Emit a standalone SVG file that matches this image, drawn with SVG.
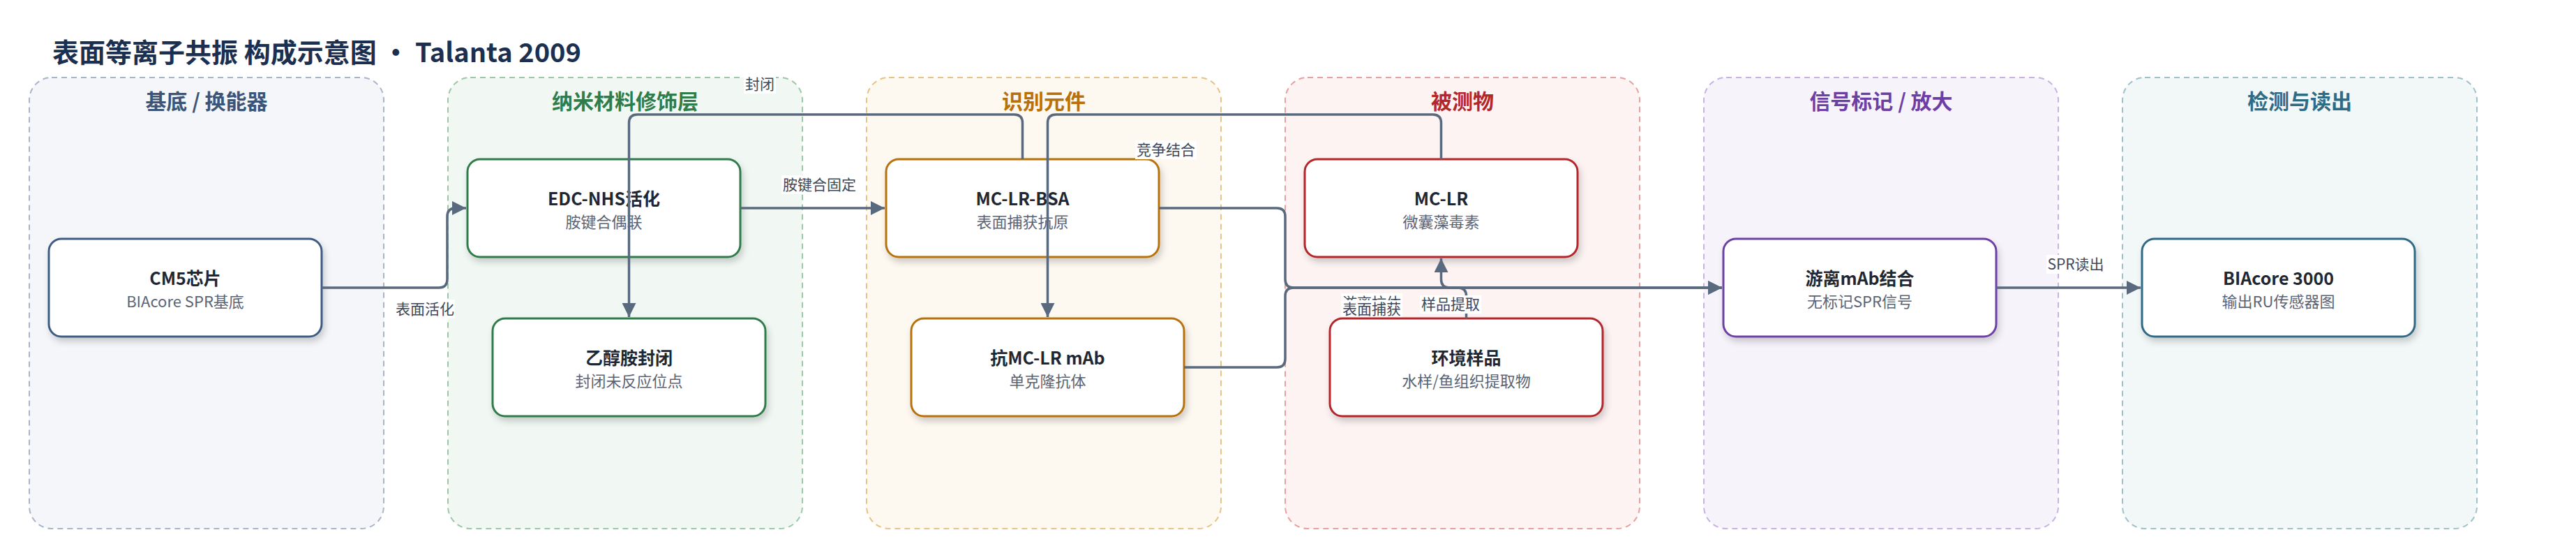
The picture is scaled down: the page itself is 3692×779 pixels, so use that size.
<svg xmlns="http://www.w3.org/2000/svg" width="3692" height="779" viewBox="0 0 3692 779">
<style>
text{font-family:"Noto Sans CJK SC","Noto Sans",sans-serif}
.title{font-size:38px;font-weight:700;fill:#1b3050}
.lane{stroke-width:2;stroke-dasharray:8 6}
.lt{font-size:30px;font-weight:700;text-anchor:middle}
.node{fill:#fff;stroke-width:3;filter:url(#sh)}
.nt{font-size:25px;font-weight:700;fill:#1f2733;text-anchor:middle}
.ns{font-size:22px;fill:#5b6475;text-anchor:middle}
.e{fill:none;stroke:#5a6a7e;stroke-width:3.5}
.ea{marker-end:url(#ah)}
.lb{fill:#fff}
.lbt{font-size:21px;fill:#3e4859;text-anchor:middle}
</style>
<defs>
<filter id="sh" x="-10%" y="-20%" width="125%" height="150%">
<feDropShadow dx="3" dy="6" stdDeviation="5" flood-color="#000" flood-opacity="0.18"/>
</filter>
<marker id="ah" markerUnits="userSpaceOnUse" markerWidth="20" markerHeight="20" refX="20" refY="10" orient="auto">
<path d="M0,0 L20,10 L0,20 z" fill="#5a6a7e"/>
</marker>
</defs>
<rect width="3692" height="779" fill="#fff"/>
<text class="title" x="75" y="89">表面等离子共振 构成示意图 • Talanta 2009</text>

<g id="lanes">
<g id="lane-substrate"><rect class="lane" x="42" y="111" width="508" height="646" rx="32" fill="#f4f6fa" stroke="#a8b5c8"/><text class="lt" x="296" y="156" fill="#3b5578">基底 / 换能器</text></g>
<g id="lane-nano"><rect class="lane" x="642" y="111" width="508" height="646" rx="32" fill="#f1f8f3" stroke="#9cc8a8"/><text class="lt" x="896" y="156" fill="#2e7d4a">纳米材料修饰层</text></g>
<g id="lane-recog"><rect class="lane" x="1242" y="111" width="508" height="646" rx="32" fill="#fdf8f0" stroke="#e6c386"/><text class="lt" x="1496" y="156" fill="#b8700a">识别元件</text></g>
<g id="lane-analyte"><rect class="lane" x="1842" y="111" width="508" height="646" rx="32" fill="#fdf3f3" stroke="#e6a0a0"/><text class="lt" x="2096" y="156" fill="#b3262a">被测物</text></g>
<g id="lane-signal"><rect class="lane" x="2442" y="111" width="508" height="646" rx="32" fill="#f7f3fb" stroke="#c7b2e2"/><text class="lt" x="2696" y="156" fill="#6d3fa6">信号标记 / 放大</text></g>
<g id="lane-detect"><rect class="lane" x="3042" y="111" width="508" height="646" rx="32" fill="#f2f7f8" stroke="#a0c0ca"/><text class="lt" x="3296" y="156" fill="#2e6b85">检测与读出</text></g>
</g>

<g id="nodes">
<g id="n-cm5"><rect class="node" x="70" y="342" width="391" height="140" rx="18" stroke="#3e5c84"/><text class="nt" x="265.5" y="408">CM5芯片</text><text class="ns" x="265.5" y="440">BIAcore SPR基底</text></g>
<g id="n-edc"><rect class="node" x="670" y="228" width="391" height="140" rx="18" stroke="#2e7d4a"/><text class="nt" x="865.5" y="294">EDC-NHS活化</text><text class="ns" x="865.5" y="326">胺键合偶联</text></g>
<g id="n-eth"><rect class="node" x="706" y="456" width="391" height="140" rx="18" stroke="#2e7d4a"/><text class="nt" x="901.5" y="522">乙醇胺封闭</text><text class="ns" x="901.5" y="554">封闭未反应位点</text></g>
<g id="n-bsa"><rect class="node" x="1270" y="228" width="391" height="140" rx="18" stroke="#b87208"/><text class="nt" x="1465.5" y="294">MC-LR-BSA</text><text class="ns" x="1465.5" y="326">表面捕获抗原</text></g>
<g id="n-mab"><rect class="node" x="1306" y="456" width="391" height="140" rx="18" stroke="#b87208"/><text class="nt" x="1501.5" y="522">抗MC-LR mAb</text><text class="ns" x="1501.5" y="554">单克隆抗体</text></g>
<g id="n-mclr"><rect class="node" x="1870" y="228" width="391" height="140" rx="18" stroke="#b3262a"/><text class="nt" x="2065.5" y="294">MC-LR</text><text class="ns" x="2065.5" y="326">微囊藻毒素</text></g>
<g id="n-env"><rect class="node" x="1906" y="456" width="391" height="140" rx="18" stroke="#b3262a"/><text class="nt" x="2101.5" y="522">环境样品</text><text class="ns" x="2101.5" y="554">水样/鱼组织提取物</text></g>
<g id="n-free"><rect class="node" x="2470" y="342" width="391" height="140" rx="18" stroke="#6d3fa6"/><text class="nt" x="2665.5" y="408">游离mAb结合</text><text class="ns" x="2665.5" y="440">无标记SPR信号</text></g>
<g id="n-biacore"><rect class="node" x="3070" y="342" width="391" height="140" rx="18" stroke="#2e6b85"/><text class="nt" x="3265.5" y="408">BIAcore 3000</text><text class="ns" x="3265.5" y="440">输出RU传感器图</text></g>
</g>

<g id="connectors">
<path class="e ea" d="M461 412 H629 Q641 412 641 400 V310 Q641 298 653 298 H668"/>
<path class="e ea" d="M1061 298 H1268"/>
<path class="e ea" d="M1465.5 228 V176 Q1465.5 164 1453.5 164 H913.5 Q901.5 164 901.5 176 V454"/>
<path class="e ea" d="M2065.5 228 V176 Q2065.5 164 2053.5 164 H1513.5 Q1501.5 164 1501.5 176 V454"/>
<path class="e ea" d="M1661 298 H1830 Q1842 298 1842 310 V400 Q1842 412 1854 412 H2468"/>
<path class="e ea" d="M1697 526 H1830 Q1842 526 1842 514 V424 Q1842 412 1854 412 H2468"/>
<path class="e ea" d="M2101.5 456 V424 Q2101.5 412 2089.5 412 H2077.5 Q2065.5 412 2065.5 400 V370"/>
<path class="e ea" d="M2861 412 H3068"/>
<g id="labels">
<rect class="lb" x="566" y="429" width="86" height="27"/><text class="lbt" x="609" y="450">表面活化</text>
<rect class="lb" x="1120" y="251" width="109" height="27"/><text class="lbt" x="1174.5" y="272">胺键合固定</text>
<rect class="lb" x="1066" y="107" width="46" height="27"/><text class="lbt" x="1089" y="128">封闭</text>
<rect class="lb" x="1627" y="201" width="88" height="27"/><text class="lbt" x="1671" y="222">竞争结合</text>
<rect class="lb" x="1922" y="420" width="88" height="27"/><text class="lbt" x="1966" y="441">游离抗体</text>
<rect class="lb" x="1922" y="430" width="88" height="24"/><text class="lbt" x="1966" y="450">表面捕获</text>
<rect class="lb" x="2035" y="423" width="88" height="26"/><text class="lbt" x="2079" y="443">样品提取</text>
<rect class="lb" x="2933" y="365" width="84" height="27"/><text class="lbt" x="2975" y="386">SPR读出</text>
</g>
</g>
</svg>
